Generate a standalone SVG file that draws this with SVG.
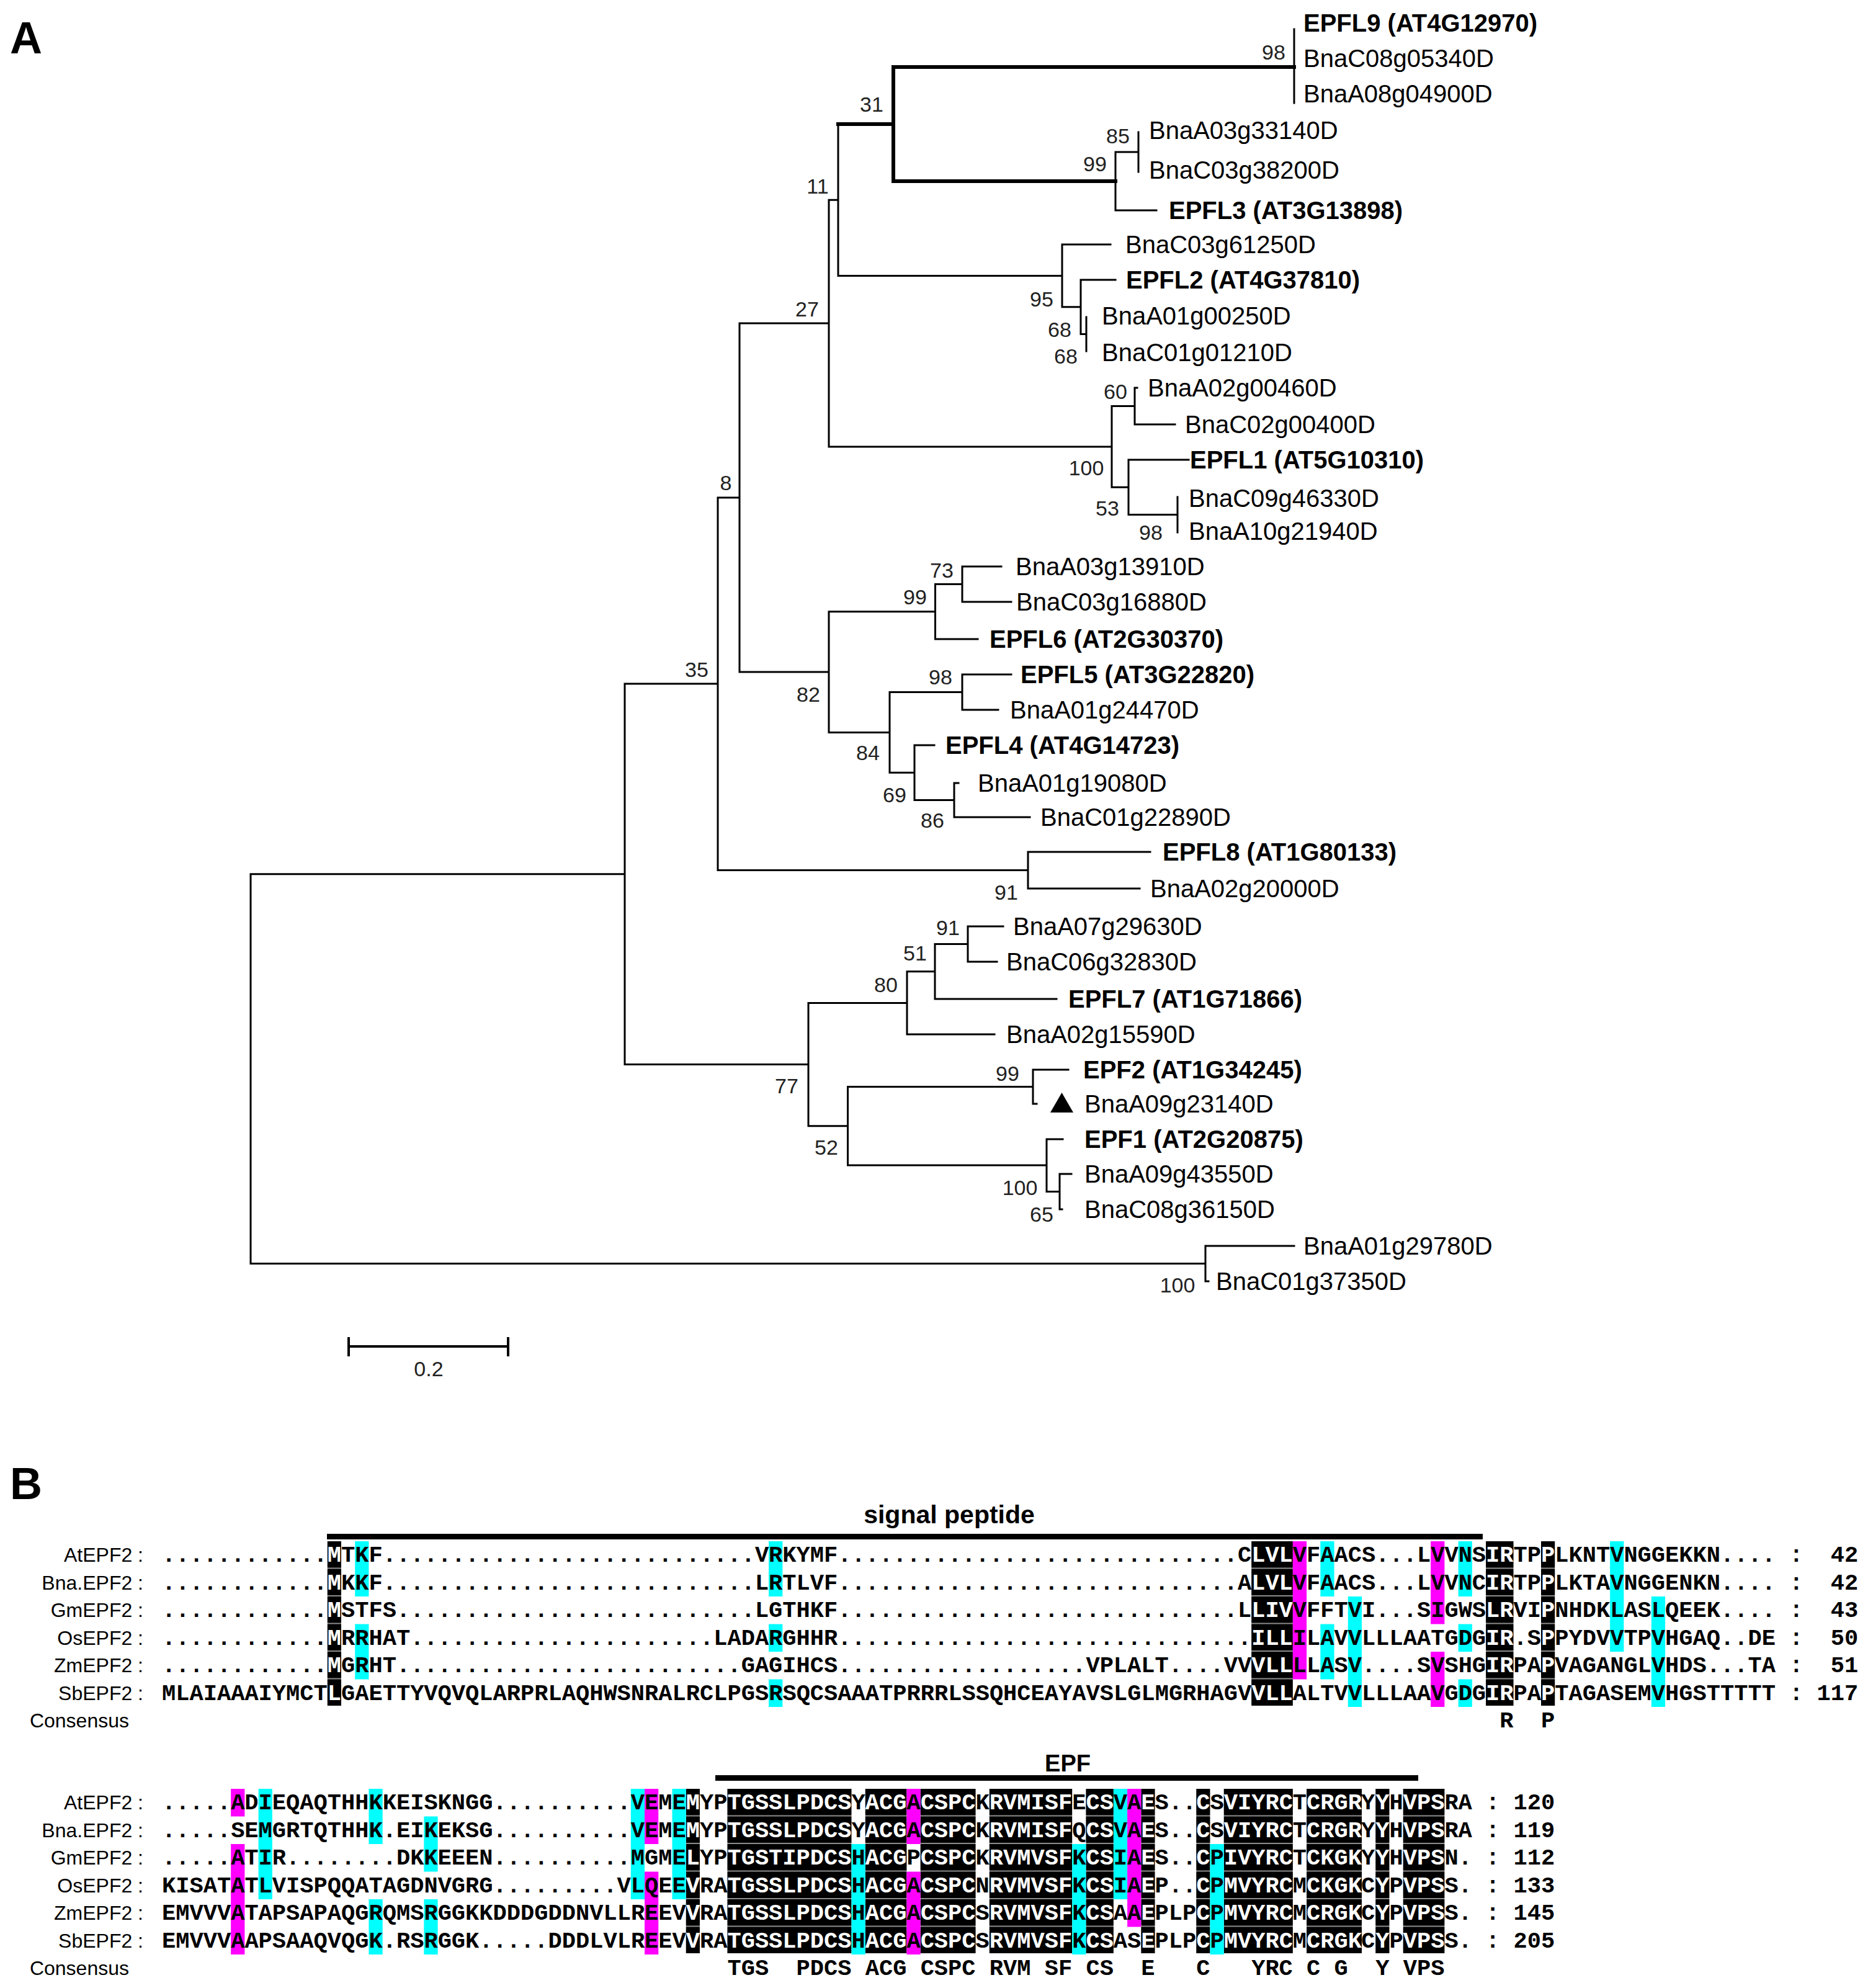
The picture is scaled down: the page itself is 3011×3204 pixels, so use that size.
<svg xmlns="http://www.w3.org/2000/svg" width="3011" height="3204" viewBox="0 0 3011 3204">
<style>
.br{stroke:#000;stroke-width:3;fill:none;stroke-linecap:square}
.tk{stroke:#000;stroke-width:6;fill:none;stroke-linecap:square}
.t{font-family:"Liberation Sans",Arial,sans-serif;font-size:40px;fill:#000}
.bd{font-weight:bold}
.bs{font-family:"Liberation Sans",Arial,sans-serif;font-size:34px;text-anchor:middle;fill:#222}
.sq{font-family:"Liberation Mono","Courier New",monospace;font-size:37.05px;font-weight:bold;fill:#000}
.w{fill:#fff}
.k1{fill:url(#pk1)}
.k2{fill:url(#pk2)}
.c{fill:#00ffff}
.m{fill:#ff00ff}
.lb{font-family:"Liberation Sans",Arial,sans-serif;font-size:32px;text-anchor:end;fill:#000}
.pl{font-family:"Liberation Sans",Arial,sans-serif;font-size:72px;font-weight:bold;fill:#000}
.hd{font-family:"Liberation Sans",Arial,sans-serif;font-weight:bold;text-anchor:middle;fill:#000}
</style>
<defs>
<pattern id="pk1" patternUnits="userSpaceOnUse" x="0" y="2484" width="20" height="44.5"><rect width="20" height="44.5" fill="#000"/><rect y="42.5" width="20" height="2" fill="#8c8c8c"/></pattern>
<pattern id="pk2" patternUnits="userSpaceOnUse" x="0" y="2883" width="20" height="44.5"><rect width="20" height="44.5" fill="#000"/><rect y="42.5" width="20" height="2" fill="#8c8c8c"/></pattern>
</defs>
<rect width="3011" height="3204" fill="#fff"/>
<text class="pl" x="16" y="86">A</text>
<text class="pl" x="16" y="2416">B</text>

<g id="connectors">
<path class="br" d="M404 1408.8V2036.5M404 1408.8H1007M404 2036.5H1943M1943 2008V2065M1943 2008H2086M1943 2065H1948M1007 1102V1715.6M1007 1102H1157M1007 1715.6H1303M1157 802V1402.5M1157 802H1192M1157 1402.5H1657M1657 1373V1432M1657 1373H1854M1657 1432H1837M1192 521V1083M1192 521H1336M1192 1083H1336M1336 322.2V719.9M1336 322.2H1351M1336 719.9H1792M1351 200V444.4M1351 444.4H1712M2086 47V166M1798 245V339M1798 245H1835M1798 339H1864M1835 213V277M1712 394V494.8M1712 394H1790M1712 494.8H1742M1742 451V538.5M1742 451H1798M1742 538.5H1751M1751 511V566M1792 654.5V785.3M1792 654.5H1829M1792 785.3H1819M1829 625V684M1829 625H1833M1829 684H1894M1819 741V829.5M1819 741H1916M1819 829.5H1898M1898 801V858M1336 985.8V1180.4M1336 985.8H1507.5M1336 1180.4H1434M1507.5 941.5V1030M1507.5 941.5H1551M1507.5 1030H1576M1551 913V970M1551 913H1614M1551 970H1630M1434 1115.5V1245.3M1434 1115.5H1551M1434 1245.3H1474M1551 1087V1144M1551 1087H1630M1551 1144H1609M1474 1201V1289.5M1474 1201H1506M1474 1289.5H1538M1538 1262V1317M1538 1262H1545M1538 1317H1660M1303 1616.4V1814.8M1303 1616.4H1462M1303 1814.8H1366.5M1462 1565.8V1667M1462 1565.8H1507M1462 1667H1603M1507 1521.5V1610M1507 1521.5H1560M1507 1610H1703M1560 1493V1550M1560 1493H1617M1560 1550H1607M1366.5 1751.5V1878M1366.5 1751.5H1665M1366.5 1878H1687M1665 1724V1779M1665 1724H1722M1665 1779H1671M1687 1836V1920.5M1687 1836H1713M1687 1920.5H1708M1708 1892V1949M1708 1892H1727M1708 1949H1712"/>
<path class="tk" d="M1351 200H1440M1440 108V292M1440 108H2086M1440 292H1798"/>
</g>

<g id="tips">
<g id="tip0"><text class="t bd" x="2101" y="51">EPFL9 (AT4G12970)</text></g>
<g id="tip1"><text class="t" x="2101" y="108">BnaC08g05340D</text></g>
<g id="tip2"><text class="t" x="2101" y="165">BnaA08g04900D</text></g>
<g id="tip3"><text class="t" x="1852" y="224">BnaA03g33140D</text></g>
<g id="tip4"><text class="t" x="1852" y="288">BnaC03g38200D</text></g>
<g id="tip5"><text class="t bd" x="1884" y="353">EPFL3 (AT3G13898)</text></g>
<g id="tip6"><text class="t" x="1814" y="408">BnaC03g61250D</text></g>
<g id="tip7"><text class="t bd" x="1815" y="465">EPFL2 (AT4G37810)</text></g>
<g id="tip8"><text class="t" x="1776" y="523">BnaA01g00250D</text></g>
<g id="tip9"><text class="t" x="1776" y="582">BnaC01g01210D</text></g>
<g id="tip10"><text class="t" x="1850" y="639">BnaA02g00460D</text></g>
<g id="tip11"><text class="t" x="1910" y="698">BnaC02g00400D</text></g>
<g id="tip12"><text class="t bd" x="1918" y="755">EPFL1 (AT5G10310)</text></g>
<g id="tip13"><text class="t" x="1916" y="817">BnaC09g46330D</text></g>
<g id="tip14"><text class="t" x="1916" y="870">BnaA10g21940D</text></g>
<g id="tip15"><text class="t" x="1637" y="927">BnaA03g13910D</text></g>
<g id="tip16"><text class="t" x="1638" y="984">BnaC03g16880D</text></g>
<g id="tip17"><text class="t bd" x="1595" y="1044">EPFL6 (AT2G30370)</text></g>
<g id="tip18"><text class="t bd" x="1645" y="1101">EPFL5 (AT3G22820)</text></g>
<g id="tip19"><text class="t" x="1628" y="1158">BnaA01g24470D</text></g>
<g id="tip20"><text class="t bd" x="1524" y="1215">EPFL4 (AT4G14723)</text></g>
<g id="tip21"><text class="t" x="1576" y="1276">BnaA01g19080D</text></g>
<g id="tip22"><text class="t" x="1677" y="1331">BnaC01g22890D</text></g>
<g id="tip23"><text class="t bd" x="1874" y="1387">EPFL8 (AT1G80133)</text></g>
<g id="tip24"><text class="t" x="1854" y="1446">BnaA02g20000D</text></g>
<g id="tip25"><text class="t" x="1633" y="1507">BnaA07g29630D</text></g>
<g id="tip26"><text class="t" x="1622" y="1564">BnaC06g32830D</text></g>
<g id="tip27"><text class="t bd" x="1722" y="1624">EPFL7 (AT1G71866)</text></g>
<g id="tip28"><text class="t" x="1622" y="1681">BnaA02g15590D</text></g>
<g id="tip29"><text class="t bd" x="1746" y="1738">EPF2 (AT1G34245)</text></g>
<g id="tip30"><polygon points="1693,1793 1730,1793 1711.5,1761" fill="#000"/><text class="t" x="1748" y="1793">BnaA09g23140D</text></g>
<g id="tip31"><text class="t bd" x="1748" y="1850">EPF1 (AT2G20875)</text></g>
<g id="tip32"><text class="t" x="1748" y="1906">BnaA09g43550D</text></g>
<g id="tip33"><text class="t" x="1748" y="1963">BnaC08g36150D</text></g>
<g id="tip34"><text class="t" x="2101" y="2022">BnaA01g29780D</text></g>
<g id="tip35"><text class="t" x="1960" y="2079">BnaC01g37350D</text></g>
</g>

<g id="bootstrap">
<text class="bs" x="2053" y="96">98</text>
<text class="bs" x="1405" y="180">31</text>
<text class="bs" x="1802" y="231">85</text>
<text class="bs" x="1765" y="276">99</text>
<text class="bs" x="1318" y="312">11</text>
<text class="bs" x="1679" y="494">95</text>
<text class="bs" x="1708" y="543">68</text>
<text class="bs" x="1718" y="586">68</text>
<text class="bs" x="1301" y="510">27</text>
<text class="bs" x="1798" y="643">60</text>
<text class="bs" x="1751" y="766">100</text>
<text class="bs" x="1785" y="831">53</text>
<text class="bs" x="1855" y="870">98</text>
<text class="bs" x="1170" y="790">8</text>
<text class="bs" x="1518" y="931">73</text>
<text class="bs" x="1475" y="974">99</text>
<text class="bs" x="1123" y="1091">35</text>
<text class="bs" x="1516" y="1103">98</text>
<text class="bs" x="1303" y="1131">82</text>
<text class="bs" x="1399" y="1225">84</text>
<text class="bs" x="1442" y="1293">69</text>
<text class="bs" x="1503" y="1334">86</text>
<text class="bs" x="1622" y="1450">91</text>
<text class="bs" x="1528" y="1507">91</text>
<text class="bs" x="1475" y="1548">51</text>
<text class="bs" x="1428" y="1599">80</text>
<text class="bs" x="1624" y="1742">99</text>
<text class="bs" x="1268" y="1762">77</text>
<text class="bs" x="1332" y="1861">52</text>
<text class="bs" x="1644" y="1926">100</text>
<text class="bs" x="1679" y="1969">65</text>
<text class="bs" x="1898" y="2083">100</text>
</g>

<g id="scalebar">
<path d="M562 2170H819M562 2155V2186M819 2155V2186" stroke="#000" stroke-width="4" fill="none"/>
<text class="bs" x="691" y="2218">0.2</text>
</g>

<g id="alignment-block1">
<rect x="527" y="2472" width="1863" height="9" fill="#000"/>
<text class="hd" x="1530" y="2455" font-size="41">signal peptide</text>
<g id="shade1">
<rect class="k1" x="527.76" y="2484" width="22.23" height="265"/>
<rect class="k1" x="2017.17" y="2484" width="66.69" height="265"/>
<rect class="k1" x="2395.08" y="2484" width="44.46" height="265"/>
<rect class="k1" x="2484" y="2484" width="22.23" height="265"/>
<rect class="c" x="572.22" y="2484" width="22.23" height="89"/>
<rect class="c" x="572.22" y="2617.5" width="22.23" height="89"/>
<rect class="c" x="1239.12" y="2484" width="22.23" height="89"/>
<rect class="c" x="1239.12" y="2617.5" width="22.23" height="44.5"/>
<rect class="c" x="1239.12" y="2706.5" width="22.23" height="44.5"/>
<rect class="c" x="2128.32" y="2484" width="22.23" height="89"/>
<rect class="c" x="2128.32" y="2617.5" width="22.23" height="89"/>
<rect class="c" x="2172.78" y="2573" width="22.23" height="178"/>
<rect class="c" x="2350.62" y="2484" width="22.23" height="89"/>
<rect class="c" x="2350.62" y="2617.5" width="22.23" height="44.5"/>
<rect class="c" x="2350.62" y="2706.5" width="22.23" height="44.5"/>
<rect class="c" x="2595.15" y="2484" width="22.23" height="178"/>
<rect class="c" x="2661.84" y="2573" width="22.23" height="178"/>
<rect class="m" x="2083.86" y="2484" width="22.23" height="222.5"/>
<rect class="m" x="2306.16" y="2484" width="22.23" height="133.5"/>
<rect class="m" x="2306.16" y="2662" width="22.23" height="89"/>
</g>
<g id="labels1">
<text class="lb" x="231" y="2517">AtEPF2 :</text>
<text class="lb" x="231" y="2561.5">Bna.EPF2 :</text>
<text class="lb" x="231" y="2606">GmEPF2 :</text>
<text class="lb" x="231" y="2650.5">OsEPF2 :</text>
<text class="lb" x="231" y="2695">ZmEPF2 :</text>
<text class="lb" x="231" y="2739.5">SbEPF2 :</text>
<text class="lb" x="208" y="2784">Consensus</text>
</g>
<g id="seq1">
<text class="sq" y="2517"><tspan x="261">............</tspan><tspan x="527.76" class="w">M</tspan><tspan x="549.99">TKF...........................</tspan><tspan x="1216.89">VRKYMF.............................</tspan><tspan x="1994.94">C</tspan><tspan x="2017.17" class="w">LVL</tspan><tspan x="2083.86">VFAACS...LVVNS</tspan><tspan x="2395.08" class="w">IR</tspan><tspan x="2439.54">TP</tspan><tspan x="2484" class="w">P</tspan><tspan x="2506.23">LKNTVNGGEKKN....</tspan></text>
<text class="sq" y="2561.5"><tspan x="261">............</tspan><tspan x="527.76" class="w">M</tspan><tspan x="549.99">KKF...........................</tspan><tspan x="1216.89">LRTLVF.............................</tspan><tspan x="1994.94">A</tspan><tspan x="2017.17" class="w">LVL</tspan><tspan x="2083.86">VFAACS...LVVNC</tspan><tspan x="2395.08" class="w">IR</tspan><tspan x="2439.54">TP</tspan><tspan x="2484" class="w">P</tspan><tspan x="2506.23">LKTAVNGGENKN....</tspan></text>
<text class="sq" y="2606"><tspan x="261">............</tspan><tspan x="527.76" class="w">M</tspan><tspan x="549.99">STFS..........................</tspan><tspan x="1216.89">LGTHKF.............................</tspan><tspan x="1994.94">L</tspan><tspan x="2017.17" class="w">LIV</tspan><tspan x="2083.86">VFFTVI...SIGWS</tspan><tspan x="2395.08" class="w">LR</tspan><tspan x="2439.54">VI</tspan><tspan x="2484" class="w">P</tspan><tspan x="2506.23">NHDKLASLQEEK....</tspan></text>
<text class="sq" y="2650.5"><tspan x="261">............</tspan><tspan x="527.76" class="w">M</tspan><tspan x="549.99">RRHAT......................</tspan><tspan x="1150.2">LADARGHHR..............................</tspan><tspan x="2017.17" class="w">ILL</tspan><tspan x="2083.86">ILAVVLLLAATGDG</tspan><tspan x="2395.08" class="w">IR</tspan><tspan x="2439.54">.S</tspan><tspan x="2484" class="w">P</tspan><tspan x="2506.23">PYDVVTPVHGAQ..DE</tspan></text>
<text class="sq" y="2695"><tspan x="261">............</tspan><tspan x="527.76" class="w">M</tspan><tspan x="549.99">GRHT.........................</tspan><tspan x="1194.66">GAGIHCS..................</tspan><tspan x="1750.41">VPLALT....VV</tspan><tspan x="2017.17" class="w">VLL</tspan><tspan x="2083.86">LLASV....SVSHG</tspan><tspan x="2395.08" class="w">IR</tspan><tspan x="2439.54">PA</tspan><tspan x="2484" class="w">P</tspan><tspan x="2506.23">VAGANGLVHDS...TA</tspan></text>
<text class="sq" y="2739.5"><tspan x="261">MLAIAAAIYMCT</tspan><tspan x="527.76" class="w">L</tspan><tspan x="549.99">GAETTYVQVQLARPRLAQHWSNRALRCLPGSRSQCSAAATPRRRLSSQHCEAYAVSLGLMGRHAGV</tspan><tspan x="2017.17" class="w">VLL</tspan><tspan x="2083.86">ALTVVLLLAAVGDG</tspan><tspan x="2395.08" class="w">IR</tspan><tspan x="2439.54">PA</tspan><tspan x="2484" class="w">P</tspan><tspan x="2506.23">TAGASEMVHGSTTTTT</tspan></text>
<text class="sq" y="2784"><tspan x="2417.31">R</tspan><tspan x="2484">P</tspan></text>
</g>
<g id="counts1" class="sq">
<text x="2884.14" y="2517">:</text><text x="2995.3" y="2517" text-anchor="end">42</text>
<text x="2884.14" y="2561.5">:</text><text x="2995.3" y="2561.5" text-anchor="end">42</text>
<text x="2884.14" y="2606">:</text><text x="2995.3" y="2606" text-anchor="end">43</text>
<text x="2884.14" y="2650.5">:</text><text x="2995.3" y="2650.5" text-anchor="end">50</text>
<text x="2884.14" y="2695">:</text><text x="2995.3" y="2695" text-anchor="end">51</text>
<text x="2884.14" y="2739.5">:</text><text x="2995.3" y="2739.5" text-anchor="end">117</text>
</g>
</g>

<g id="alignment-block2">
<rect x="1153" y="2861" width="1133" height="9" fill="#000"/>
<text class="hd" x="1721" y="2855" font-size="38">EPF</text>
<g id="shade2">
<rect class="k2" x="1105.74" y="2883" width="22.23" height="265"/>
<rect class="k2" x="1172.43" y="2883" width="200.07" height="265"/>
<rect class="k2" x="1394.73" y="2883" width="66.69" height="265"/>
<rect class="k2" x="1483.65" y="2883" width="88.92" height="265"/>
<rect class="k2" x="1594.8" y="2883" width="133.38" height="265"/>
<rect class="k2" x="1750.41" y="2883" width="44.46" height="265"/>
<rect class="k2" x="1839.33" y="2883" width="22.23" height="265"/>
<rect class="k2" x="1928.25" y="2883" width="22.23" height="265"/>
<rect class="k2" x="1972.71" y="2883" width="111.15" height="265"/>
<rect class="k2" x="2106.09" y="2883" width="88.92" height="265"/>
<rect class="k2" x="2217.24" y="2883" width="22.23" height="265"/>
<rect class="k2" x="2261.7" y="2883" width="66.69" height="265"/>
<rect class="c" x="416.61" y="2883" width="22.23" height="178"/>
<rect class="c" x="594.45" y="2883" width="22.23" height="89"/>
<rect class="c" x="594.45" y="3061" width="22.23" height="89"/>
<rect class="c" x="683.37" y="2927.5" width="22.23" height="89"/>
<rect class="c" x="683.37" y="3061" width="22.23" height="89"/>
<rect class="c" x="1016.82" y="2883" width="22.23" height="178"/>
<rect class="c" x="1083.51" y="2883" width="22.23" height="178"/>
<rect class="c" x="1372.5" y="2972" width="22.23" height="178"/>
<rect class="c" x="1728.18" y="2972" width="22.23" height="178"/>
<rect class="c" x="1794.87" y="2883" width="22.23" height="178"/>
<rect class="c" x="1950.48" y="2972" width="22.23" height="178"/>
<rect class="m" x="372.15" y="2883" width="22.23" height="44.5"/>
<rect class="m" x="372.15" y="2972" width="22.23" height="178"/>
<rect class="m" x="1039.05" y="2883" width="22.23" height="89"/>
<rect class="m" x="1039.05" y="3016.5" width="22.23" height="133.5"/>
<rect class="m" x="1461.42" y="2883" width="22.23" height="89"/>
<rect class="m" x="1461.42" y="3016.5" width="22.23" height="133.5"/>
<rect class="m" x="1817.1" y="2883" width="22.23" height="222.5"/>
</g>
<g id="labels2">
<text class="lb" x="231" y="2916">AtEPF2 :</text>
<text class="lb" x="231" y="2960.5">Bna.EPF2 :</text>
<text class="lb" x="231" y="3005">GmEPF2 :</text>
<text class="lb" x="231" y="3049.5">OsEPF2 :</text>
<text class="lb" x="231" y="3094">ZmEPF2 :</text>
<text class="lb" x="231" y="3138.5">SbEPF2 :</text>
<text class="lb" x="208" y="3183">Consensus</text>
</g>
<g id="seq2">
<text class="sq" y="2916"><tspan x="261">.....</tspan><tspan x="372.15">ADIEQAQTHHKKEISKNGG..........</tspan><tspan x="1016.82">VEME</tspan><tspan x="1105.74" class="w">M</tspan><tspan x="1127.97">YP</tspan><tspan x="1172.43" class="w">TGSSLPDCS</tspan><tspan x="1372.5">Y</tspan><tspan x="1394.73" class="w">ACG</tspan><tspan x="1461.42">A</tspan><tspan x="1483.65" class="w">CSPC</tspan><tspan x="1572.57">K</tspan><tspan x="1594.8" class="w">RVMISF</tspan><tspan x="1728.18">E</tspan><tspan x="1750.41" class="w">CS</tspan><tspan x="1794.87">VA</tspan><tspan x="1839.33" class="w">E</tspan><tspan x="1861.56">S..</tspan><tspan x="1928.25" class="w">C</tspan><tspan x="1950.48">S</tspan><tspan x="1972.71" class="w">VIYRC</tspan><tspan x="2083.86">T</tspan><tspan x="2106.09" class="w">CRGR</tspan><tspan x="2194.01">Y</tspan><tspan x="2217.24" class="w">Y</tspan><tspan x="2239.47">H</tspan><tspan x="2261.7" class="w">VPS</tspan><tspan x="2328.39">RA</tspan></text>
<text class="sq" y="2960.5"><tspan x="261">.....</tspan><tspan x="372.15">SEMGRTQTHHK.EIKEKSG..........</tspan><tspan x="1016.82">VEME</tspan><tspan x="1105.74" class="w">M</tspan><tspan x="1127.97">YP</tspan><tspan x="1172.43" class="w">TGSSLPDCS</tspan><tspan x="1372.5">Y</tspan><tspan x="1394.73" class="w">ACG</tspan><tspan x="1461.42">A</tspan><tspan x="1483.65" class="w">CSPC</tspan><tspan x="1572.57">K</tspan><tspan x="1594.8" class="w">RVMISF</tspan><tspan x="1728.18">Q</tspan><tspan x="1750.41" class="w">CS</tspan><tspan x="1794.87">VA</tspan><tspan x="1839.33" class="w">E</tspan><tspan x="1861.56">S..</tspan><tspan x="1928.25" class="w">C</tspan><tspan x="1950.48">S</tspan><tspan x="1972.71" class="w">VIYRC</tspan><tspan x="2083.86">T</tspan><tspan x="2106.09" class="w">CRGR</tspan><tspan x="2194.01">Y</tspan><tspan x="2217.24" class="w">Y</tspan><tspan x="2239.47">H</tspan><tspan x="2261.7" class="w">VPS</tspan><tspan x="2328.39">RA</tspan></text>
<text class="sq" y="3005"><tspan x="261">.....</tspan><tspan x="372.15">ATIR........</tspan><tspan x="638.91">DKKEEEN..........</tspan><tspan x="1016.82">MGME</tspan><tspan x="1105.74" class="w">L</tspan><tspan x="1127.97">YP</tspan><tspan x="1172.43" class="w">TGSTIPDCS</tspan><tspan x="1372.5">H</tspan><tspan x="1394.73" class="w">ACG</tspan><tspan x="1461.42">P</tspan><tspan x="1483.65" class="w">CSPC</tspan><tspan x="1572.57">K</tspan><tspan x="1594.8" class="w">RVMVSF</tspan><tspan x="1728.18">K</tspan><tspan x="1750.41" class="w">CS</tspan><tspan x="1794.87">IA</tspan><tspan x="1839.33" class="w">E</tspan><tspan x="1861.56">S..</tspan><tspan x="1928.25" class="w">C</tspan><tspan x="1950.48">P</tspan><tspan x="1972.71" class="w">IVYRC</tspan><tspan x="2083.86">T</tspan><tspan x="2106.09" class="w">CKGK</tspan><tspan x="2194.01">Y</tspan><tspan x="2217.24" class="w">Y</tspan><tspan x="2239.47">H</tspan><tspan x="2261.7" class="w">VPS</tspan><tspan x="2328.39">N.</tspan></text>
<text class="sq" y="3049.5"><tspan x="261">KISATATLVISPQQATAGDNVGRG.........</tspan><tspan x="994.59">VLQEE</tspan><tspan x="1105.74" class="w">V</tspan><tspan x="1127.97">RA</tspan><tspan x="1172.43" class="w">TGSSLPDCS</tspan><tspan x="1372.5">H</tspan><tspan x="1394.73" class="w">ACG</tspan><tspan x="1461.42">A</tspan><tspan x="1483.65" class="w">CSPC</tspan><tspan x="1572.57">N</tspan><tspan x="1594.8" class="w">RVMVSF</tspan><tspan x="1728.18">K</tspan><tspan x="1750.41" class="w">CS</tspan><tspan x="1794.87">IA</tspan><tspan x="1839.33" class="w">E</tspan><tspan x="1861.56">P..</tspan><tspan x="1928.25" class="w">C</tspan><tspan x="1950.48">P</tspan><tspan x="1972.71" class="w">MVYRC</tspan><tspan x="2083.86">M</tspan><tspan x="2106.09" class="w">CKGK</tspan><tspan x="2194.01">C</tspan><tspan x="2217.24" class="w">Y</tspan><tspan x="2239.47">P</tspan><tspan x="2261.7" class="w">VPS</tspan><tspan x="2328.39">S.</tspan></text>
<text class="sq" y="3094"><tspan x="261">EMVVVATAPSAPAQGRQMSRGGKKDDDGDDNVLLREEV</tspan><tspan x="1105.74" class="w">V</tspan><tspan x="1127.97">RA</tspan><tspan x="1172.43" class="w">TGSSLPDCS</tspan><tspan x="1372.5">H</tspan><tspan x="1394.73" class="w">ACG</tspan><tspan x="1461.42">A</tspan><tspan x="1483.65" class="w">CSPC</tspan><tspan x="1572.57">S</tspan><tspan x="1594.8" class="w">RVMVSF</tspan><tspan x="1728.18">K</tspan><tspan x="1750.41" class="w">CS</tspan><tspan x="1794.87">AA</tspan><tspan x="1839.33" class="w">E</tspan><tspan x="1861.56">PLP</tspan><tspan x="1928.25" class="w">C</tspan><tspan x="1950.48">P</tspan><tspan x="1972.71" class="w">MVYRC</tspan><tspan x="2083.86">M</tspan><tspan x="2106.09" class="w">CRGK</tspan><tspan x="2194.01">C</tspan><tspan x="2217.24" class="w">Y</tspan><tspan x="2239.47">P</tspan><tspan x="2261.7" class="w">VPS</tspan><tspan x="2328.39">S.</tspan></text>
<text class="sq" y="3138.5"><tspan x="261">EMVVVAAPSAAQVQGK.RSRGGK.....DDDLVLREEV</tspan><tspan x="1105.74" class="w">V</tspan><tspan x="1127.97">RA</tspan><tspan x="1172.43" class="w">TGSSLPDCS</tspan><tspan x="1372.5">H</tspan><tspan x="1394.73" class="w">ACG</tspan><tspan x="1461.42">A</tspan><tspan x="1483.65" class="w">CSPC</tspan><tspan x="1572.57">S</tspan><tspan x="1594.8" class="w">RVMVSF</tspan><tspan x="1728.18">K</tspan><tspan x="1750.41" class="w">CS</tspan><tspan x="1794.87">AS</tspan><tspan x="1839.33" class="w">E</tspan><tspan x="1861.56">PLP</tspan><tspan x="1928.25" class="w">C</tspan><tspan x="1950.48">P</tspan><tspan x="1972.71" class="w">MVYRC</tspan><tspan x="2083.86">M</tspan><tspan x="2106.09" class="w">CRGK</tspan><tspan x="2194.01">C</tspan><tspan x="2217.24" class="w">Y</tspan><tspan x="2239.47">P</tspan><tspan x="2261.7" class="w">VPS</tspan><tspan x="2328.39">S.</tspan></text>
<text class="sq" y="3183"><tspan x="1172.43">TGS</tspan><tspan x="1283.58">PDCS</tspan><tspan x="1394.73">ACG</tspan><tspan x="1483.65">CSPC</tspan><tspan x="1594.8">RVM</tspan><tspan x="1683.72">SF</tspan><tspan x="1750.41">CS</tspan><tspan x="1839.33">E</tspan><tspan x="1928.25">C</tspan><tspan x="2017.17">YRC</tspan><tspan x="2106.09">C</tspan><tspan x="2150.55">G</tspan><tspan x="2217.24">Y</tspan><tspan x="2261.7">VPS</tspan></text>
</g>
<g id="counts2" class="sq">
<text x="2395.08" y="2916">:</text><text x="2506.23" y="2916" text-anchor="end">120</text>
<text x="2395.08" y="2960.5">:</text><text x="2506.23" y="2960.5" text-anchor="end">119</text>
<text x="2395.08" y="3005">:</text><text x="2506.23" y="3005" text-anchor="end">112</text>
<text x="2395.08" y="3049.5">:</text><text x="2506.23" y="3049.5" text-anchor="end">133</text>
<text x="2395.08" y="3094">:</text><text x="2506.23" y="3094" text-anchor="end">145</text>
<text x="2395.08" y="3138.5">:</text><text x="2506.23" y="3138.5" text-anchor="end">205</text>
</g>
</g>
</svg>
